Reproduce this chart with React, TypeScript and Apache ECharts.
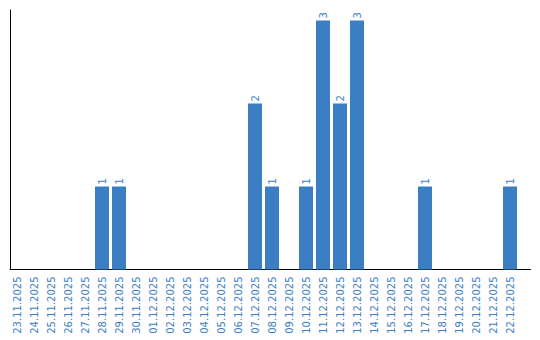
import React, { useEffect, useRef } from "react";
import * as echarts from "echarts";

const dates = [
  "23.11.2025", "24.11.2025", "25.11.2025", "26.11.2025", "27.11.2025", "28.11.2025",
  "29.11.2025", "30.11.2025", "01.12.2025", "02.12.2025", "03.12.2025", "04.12.2025",
  "05.12.2025", "06.12.2025", "07.12.2025", "08.12.2025", "09.12.2025", "10.12.2025",
  "11.12.2025", "12.12.2025", "13.12.2025", "14.12.2025", "15.12.2025", "16.12.2025",
  "17.12.2025", "18.12.2025", "19.12.2025", "20.12.2025", "21.12.2025", "22.12.2025",
];
const counts = [0, 0, 0, 0, 0, 1, 1, 0, 0, 0, 0, 0, 0, 0, 2, 1, 0, 1, 3, 2, 3, 0, 0, 0, 1, 0, 0, 0, 0, 1];

const BLUE = "#3b7ec3";
const FONT = "DejaVu Sans";

export default function App() {
  const ref = useRef<HTMLDivElement>(null);
  useEffect(() => {
    if (!ref.current) return;
    const chart = echarts.init(ref.current, null, { renderer: "svg" });
    chart.setOption({
      animation: false,
      grid: [
        { left: 8.5, right: 21.5, top: 10, bottom: 70.5, containLabel: false },
        { left: 10, right: 9.5, top: 10, bottom: 70.5, containLabel: false },
      ],
      xAxis: [
        {
          type: "category",
          gridIndex: 0,
          data: dates,
          axisLine: { show: false },
          axisTick: { show: false },
          axisLabel: {
            rotate: 90,
            interval: 0,
            color: BLUE,
            fontFamily: FONT,
            fontSize: 10,
            margin: 7,
          },
        },
        {
          type: "value",
          gridIndex: 1,
          min: 0,
          max: 1,
          axisLine: { show: true, onZero: false, lineStyle: { color: "#000", width: 1 } },
          axisTick: { show: false },
          axisLabel: { show: false },
          splitLine: { show: false },
        },
      ],
      yAxis: [
        {
          type: "value",
          gridIndex: 0,
          min: 0,
          max: 3.126,
          axisLine: { show: false },
          axisTick: { show: false },
          axisLabel: { show: false },
          splitLine: { show: false },
        },
        {
          type: "value",
          gridIndex: 1,
          min: 0,
          max: 1,
          axisLine: { show: true, onZero: false, lineStyle: { color: "#000", width: 1 } },
          axisTick: { show: false },
          axisLabel: { show: false },
          splitLine: { show: false },
        },
      ],
      series: [
        {
          type: "bar",
          xAxisIndex: 0,
          yAxisIndex: 0,
          data: counts.map((v) => (v === 0 ? null : v)),
          barWidth: 14,
          itemStyle: { color: BLUE },
          label: {
            show: true,
            position: "top",
            rotate: 90,
            align: "left",
            verticalAlign: "middle",
            distance: 2,
            color: BLUE,
            fontFamily: FONT,
            fontSize: 10,
          },
        },
      ],
    });
    return () => chart.dispose();
  }, []);
  return <div ref={ref} style={{ width: 540, height: 340, position: "absolute", left: 0, top: 0 }} />;
}
